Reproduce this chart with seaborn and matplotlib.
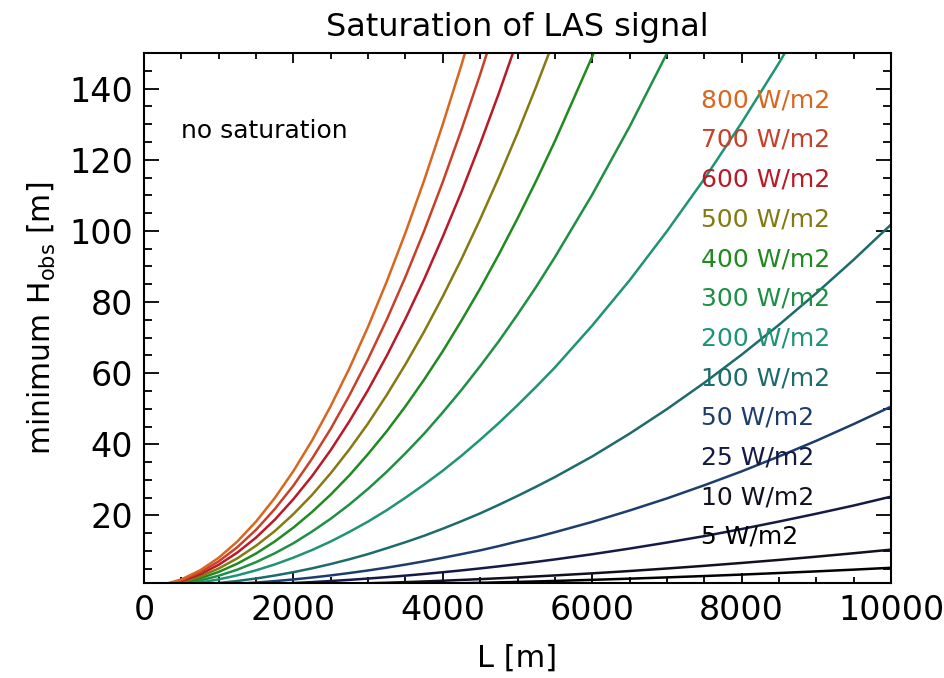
# LAS saturation chart
import numpy as np
import pandas as pd
import seaborn as sns
import matplotlib.pyplot as plt
from matplotlib.ticker import MultipleLocator

# path length L [m], shared by all curves (finer spacing where the curves are steep)
L_m = [250, 500, 750, 1000, 1250, 1500, 1750, 2000, 2250, 2500, 2750, 3000,
       3250, 3500, 3750, 4000, 4250, 4500, 4750, 5000, 5250, 5500,
       6000, 6500, 7000, 7500, 8000, 8500, 9000, 9500, 10000]

H_800 = [0.51, 2.03, 4.57, 8.12, 12.7, 18.3, 24.9, 32.5, 41.1, 50.8, 61.4, 73.1,
         85.8, 99.5, 114.2, 130.0, 146.7, 164.5]
H_700 = [0.44, 1.78, 4.00, 7.11, 11.1, 16.0, 21.8, 28.4, 36.0, 44.4, 53.8, 64.0,
         75.1, 87.1, 100.0, 113.8, 128.5, 144.0, 160.5]
H_600 = [0.38, 1.54, 3.46, 6.15, 9.60, 13.8, 18.8, 24.6, 31.1, 38.4, 46.5, 55.3,
         64.9, 75.3, 86.4, 98.4, 111.0, 124.5, 138.7, 153.7]
H_500 = [0.32, 1.28, 2.87, 5.10, 7.97, 11.5, 15.6, 20.4, 25.8, 31.9, 38.6, 45.9,
         53.9, 62.5, 71.7, 81.6, 92.1, 103.3, 115.1, 127.5, 140.6, 154.3]
H_400 = [0.26, 1.04, 2.33, 4.14, 6.47, 9.32, 12.7, 16.6, 21.0, 25.9, 31.3, 37.3,
         43.7, 50.7, 58.2, 66.2, 74.8, 83.8, 93.4, 103.5, 114.1, 125.2,
         149.0, 174.9]
H_300 = [0.19, 0.77, 1.72, 3.06, 4.78, 6.89, 9.37, 12.2, 15.5, 19.1, 23.1, 27.5,
         32.3, 37.5, 43.0, 49.0, 55.3, 62.0, 69.0, 76.5, 84.3, 92.6,
         110.2, 129.3, 149.9, 172.1]
H_200 = [0.13, 0.51, 1.15, 2.04, 3.18, 4.59, 6.24, 8.15, 10.3, 12.7, 15.4, 18.3,
         21.5, 25.0, 28.7, 32.6, 36.8, 41.3, 46.0, 51.0, 56.2, 61.6,
         73.4, 86.1, 99.9, 114.6, 130.4, 147.2, 165.1]
H_100 = [0.06, 0.25, 0.57, 1.02, 1.59, 2.29, 3.12, 4.07, 5.15, 6.36, 7.70, 9.16,
         10.8, 12.5, 14.3, 16.3, 18.4, 20.6, 23.0, 25.5, 28.1, 30.8,
         36.6, 43.0, 49.9, 57.3, 65.2, 73.6, 82.5, 91.9, 101.8]
H_50 = [0.03, 0.13, 0.28, 0.51, 0.79, 1.14, 1.55, 2.02, 2.56, 3.16, 3.83, 4.55,
        5.34, 6.20, 7.12, 8.10, 9.14, 10.2, 11.4, 12.7, 13.9, 15.3,
        18.2, 21.4, 24.8, 28.5, 32.4, 36.6, 41.0, 45.7, 50.6]
H_25 = [0.02, 0.06, 0.14, 0.25, 0.40, 0.57, 0.77, 1.01, 1.28, 1.58, 1.91, 2.28,
        2.67, 3.10, 3.56, 4.05, 4.57, 5.12, 5.71, 6.33, 6.97, 7.65,
        9.11, 10.7, 12.4, 14.2, 16.2, 18.3, 20.5, 22.8, 25.3]
H_10 = [0.01, 0.03, 0.06, 0.10, 0.16, 0.23, 0.32, 0.42, 0.53, 0.65, 0.79, 0.94,
        1.10, 1.27, 1.46, 1.66, 1.88, 2.11, 2.35, 2.60, 2.87, 3.15,
        3.74, 4.39, 5.10, 5.85, 6.66, 7.51, 8.42, 9.39, 10.4]
H_5 = [0.00, 0.01, 0.03, 0.05, 0.08, 0.12, 0.16, 0.21, 0.27, 0.33, 0.40, 0.48,
       0.56, 0.65, 0.75, 0.85, 0.96, 1.07, 1.20, 1.33, 1.46, 1.60,
       1.91, 2.24, 2.60, 2.98, 3.39, 3.83, 4.29, 4.78, 5.30]

fluxes = [800, 700, 600, 500, 400, 300, 200, 100, 50, 25, 10, 5]
curves = [H_800, H_700, H_600, H_500, H_400, H_300, H_200, H_100, H_50, H_25, H_10, H_5]
colors = ['#d9661f', '#c9402a', '#b81a28', '#857a12', '#208a20', '#1f8f45',
          '#1f9474', '#1d6b6b', '#1d3d6d', '#151a45', '#101020', '#000000']

rows = []
for flux, H in zip(fluxes, curves):
    for L, h in zip(L_m, H):
        rows.append({'L': L, 'H': h, 'flux': flux})
df = pd.DataFrame(rows)

sns.set_theme(style='ticks')
plt.rcParams['font.family'] = ['DejaVu Sans']
plt.rcParams['mathtext.default'] = 'regular'
for k in ['text.color', 'axes.labelcolor', 'xtick.color', 'ytick.color', 'axes.edgecolor']:
    plt.rcParams[k] = 'black'

fig = plt.figure(figsize=(9.45, 6.78), dpi=100)
ax = fig.add_axes([0.1524, 0.140, 0.7905, 0.7818])

sns.lineplot(data=df, x='L', y='H', hue='flux', palette=dict(zip(fluxes, colors)),
             linewidth=1.8, legend=False, sort=False, ax=ax)

ax.set_xlim(0, 10000)
ax.set_ylim(1, 150)
ax.xaxis.set_major_locator(MultipleLocator(2000))
ax.xaxis.set_minor_locator(MultipleLocator(500))
ax.yaxis.set_minor_locator(MultipleLocator(5))
ax.set_yticks([20, 40, 60, 80, 100, 120, 140])

ax.tick_params(which='both', direction='in', top=True, right=True, width=1.3,
               labelsize=24, pad=8)
ax.tick_params(axis='x', which='major', length=7.5)
ax.tick_params(axis='x', which='minor', length=4)
ax.tick_params(axis='y', which='major', length=11)
ax.tick_params(axis='y', which='minor', length=5.5)
for s in ax.spines.values():
    s.set_linewidth(1.5)

ax.set_title('Saturation of LAS signal', fontsize=23, pad=12)
ax.set_xlabel('L [m]', fontsize=22, labelpad=12)
ax.set_ylabel('minimum H$_{obs}$ [m]', fontsize=21.5, labelpad=8)

ax.text(0.0495, 0.853, 'no saturation', transform=ax.transAxes, fontsize=18,
        va='center', ha='left')
for i, (flux, c) in enumerate(zip(fluxes, colors)):
    ax.text(0.7457, 0.911 - i * 0.0749, f'{flux} W/m2', transform=ax.transAxes,
            color=c, fontsize=18, va='center', ha='left')

fig.savefig('out.png', dpi=100)
